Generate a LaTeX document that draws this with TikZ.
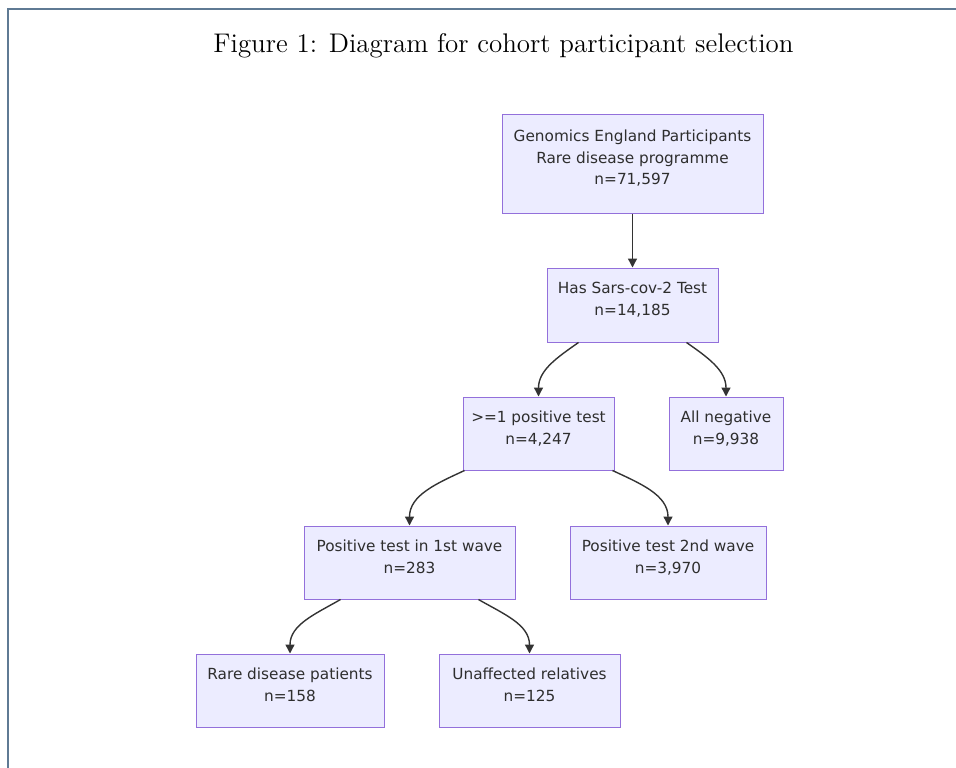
\documentclass[tikz,border=0pt]{standalone}
\usepackage{fontspec}
\usetikzlibrary{arrows.meta}
\newfontfamily\boxfont{DejaVu Sans}
\newfontfamily\titlefont{lmroman12-regular.otf}
\definecolor{boxfill}{HTML}{ECECFF}
\definecolor{boxline}{HTML}{9370DB}
\definecolor{linkcol}{HTML}{333333}
\definecolor{pageline}{HTML}{5F7A94}

\begin{document}
\begin{tikzpicture}[x=1pt,y=1pt,
  box/.style={draw=boxline,fill=boxfill,line width=1pt,inner sep=0pt,align=center,text=linkcol!90!black,
    text depth=12pt,font=\boxfont\fontsize{15.3}{21.5}\selectfont},
  link/.style={draw=linkcol,line width=1.4pt,-{Triangle[length=9pt,width=9pt]}}]
\useasboundingbox (0,-768) rectangle (956,0);
\draw[pageline,line width=2pt] (8,-768)--(8,-9)--(956,-9);
\node[anchor=base] (title) at (503.5,-53) {\titlefont\fontsize{26.95}{30}\selectfont Figure 1: Diagram for cohort participant selection};
% boxes
\node[box,minimum width=261pt,minimum height=99pt] (gel) at (632.5,-163.5) {Genomics England Participants\\Rare disease programme\\n=71,597};
\node[box,minimum width=171pt,minimum height=74pt] (hs) at (632.5,-305) {Has Sars-cov-2 Test\\n=14,185};
\node[box,minimum width=151pt,minimum height=73pt] (pos) at (538.5,-433.5) {>=1 positive test\\n=4,247};
\node[box,minimum width=114pt,minimum height=73pt] (neg) at (726,-433.5) {All negative\\n=9,938};
\node[box,minimum width=211pt,minimum height=73pt] (w1) at (409.5,-562.5) {Positive test in 1st wave\\n=283};
\node[box,minimum width=196pt,minimum height=73pt] (w2) at (668,-562.5) {Positive test 2nd wave\\n=3,970};
\node[box,minimum width=188pt,minimum height=73pt] (rare) at (290,-690.5) {Rare disease patients\\n=158};
\node[box,minimum width=181pt,minimum height=73pt] (unaff) at (529.5,-690.5) {Unaffected relatives\\n=125};
% links
\draw[link] (gel) -- (hs);
\draw[link] ([xshift=-54pt]hs.south) to[out=-145,in=90] (pos.north);
\draw[link] ([xshift=54pt]hs.south) to[out=-35,in=90] (neg.north);
\draw[link] ([xshift=-74pt]pos.south) to[out=-155,in=90] (w1.north);
\draw[link] ([xshift=74pt]pos.south) to[out=-25,in=90] (w2.north);
\draw[link] ([xshift=-69pt]w1.south) to[out=-150,in=90] (rare.north);
\draw[link] ([xshift=69pt]w1.south) to[out=-30,in=90] (unaff.north);
\end{tikzpicture}
\end{document}
